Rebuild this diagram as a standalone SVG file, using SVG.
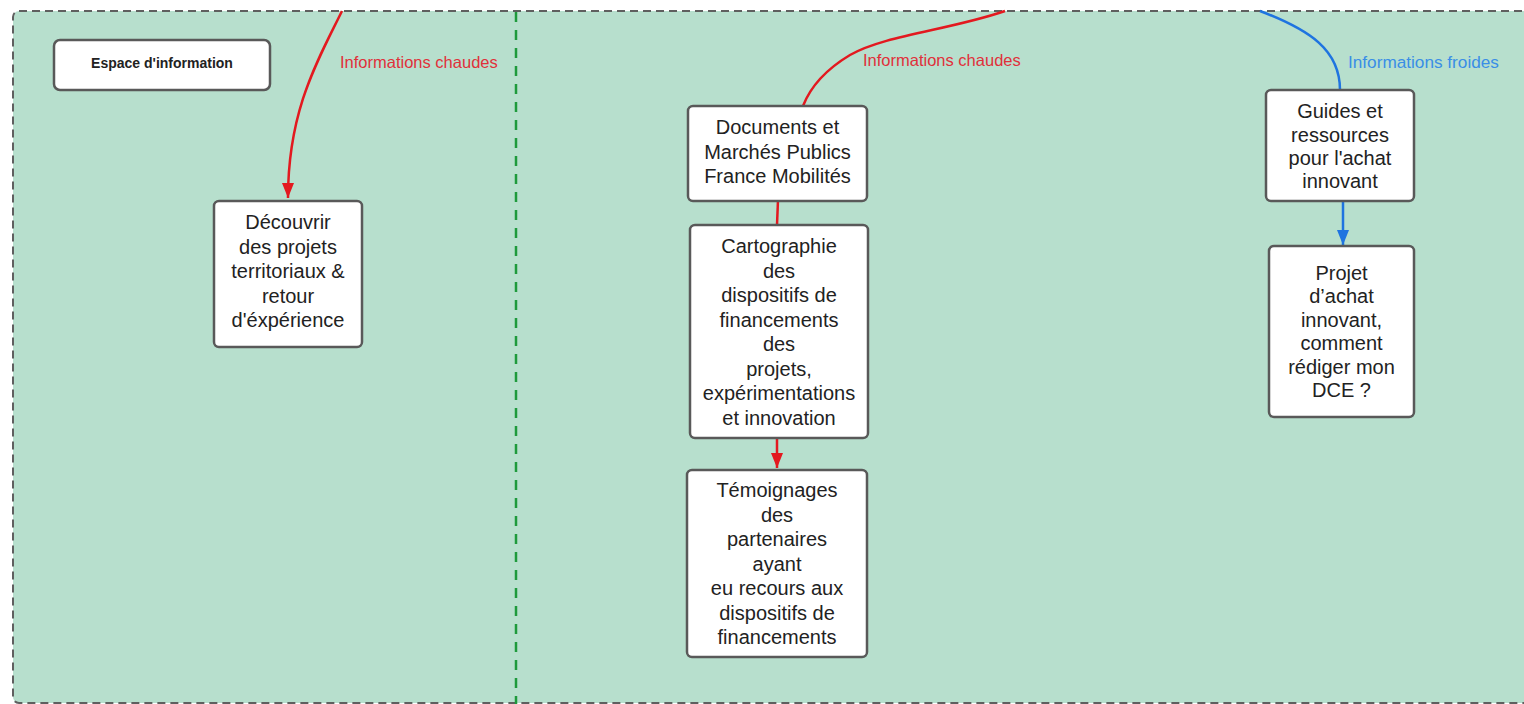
<svg xmlns="http://www.w3.org/2000/svg" width="1524" height="704" viewBox="0 0 1524 704">
<defs>
<style>
.node rect{fill:#ffffff;stroke:#595959;stroke-width:2.5}
.node text{font-family:"Liberation Sans",Arial,sans-serif;font-size:20px;fill:#222;text-anchor:middle}
.lbl{font-family:"Liberation Sans",Arial,sans-serif;font-size:16.5px}
.red{stroke:#e3191f;stroke-width:2.5;fill:none}
.blue{stroke:#1f74e0;stroke-width:2.5;fill:none}
</style>
<marker id="ar" viewBox="0 0 15 12" refX="15" refY="6" markerWidth="15" markerHeight="12" markerUnits="userSpaceOnUse" orient="auto">
<path d="M0,0 L15,6 L0,12 Z" fill="#e3191f"/>
</marker>
<marker id="ab" viewBox="0 0 15 12" refX="15" refY="6" markerWidth="15" markerHeight="12" markerUnits="userSpaceOnUse" orient="auto">
<path d="M0,0 L15,6 L0,12 Z" fill="#1f74e0"/>
</marker>
</defs>
<rect width="1524" height="704" fill="#ffffff"/>
<g id="container">
<rect x="13" y="11" width="1530" height="692" rx="6" fill="#b7dfcd" stroke="#5f5f5f" stroke-width="2" stroke-dasharray="8,5"/>
<line x1="516" y1="12" x2="516" y2="704" stroke="#1e9a3c" stroke-width="2.5" stroke-dasharray="10,8"/>
</g>
<g id="connectors">
<path class="red" d="M342,11 C318,60 288,110 288,198" marker-end="url(#ar)"/>
<path class="red" d="M1005,11 C950,30 885,35 850,55 C825,70 810,88 803,106"/>
<path class="red" d="M778,200 L777,225"/>
<path class="red" d="M777,438 L777,468" marker-end="url(#ar)"/>
<path class="blue" d="M1260,11 C1310,30 1340,50 1340,90"/>
<path class="blue" d="M1343,201 L1343,245" marker-end="url(#ab)"/>
<text class="lbl" x="340" y="68" fill="#e0303a">Informations chaudes</text>
<text class="lbl" x="863" y="66" fill="#e0303a">Informations chaudes</text>
<text class="lbl" x="1348" y="68" fill="#3a8ee6" style="font-size:17.2px">Informations froides</text>
</g>
<g id="espace" class="node">
<rect x="54" y="40" width="216" height="50" rx="6"/>
<text x="162" y="68" style="font-size:14px;font-weight:bold">Espace d'information</text>
</g>
<g id="decouvrir" class="node">
<rect x="214" y="201" width="148" height="146" rx="5"/>
<text x="288" y="229">Découvrir</text>
<text x="288" y="253.5">des projets</text>
<text x="288" y="278">territoriaux &amp;</text>
<text x="288" y="302.5">retour</text>
<text x="288" y="327">d'éxpérience</text>
</g>
<g id="documents" class="node">
<rect x="688" y="106" width="179" height="95" rx="5"/>
<text x="777.5" y="134">Documents et</text>
<text x="777.5" y="158.5">Marchés Publics</text>
<text x="777.5" y="183">France Mobilités</text>
</g>
<g id="cartographie" class="node">
<rect x="690" y="225" width="178" height="213" rx="5"/>
<text x="779" y="253">Cartographie</text>
<text x="779" y="277.5">des</text>
<text x="779" y="302">dispositifs de</text>
<text x="779" y="326.5">financements</text>
<text x="779" y="351">des</text>
<text x="779" y="375.5">projets,</text>
<text x="779" y="400">expérimentations</text>
<text x="779" y="424.5">et innovation</text>
</g>
<g id="temoignages" class="node">
<rect x="687" y="470" width="180" height="187" rx="5"/>
<text x="777" y="497">Témoignages</text>
<text x="777" y="521.5">des</text>
<text x="777" y="546">partenaires</text>
<text x="777" y="570.5">ayant</text>
<text x="777" y="595">eu recours aux</text>
<text x="777" y="619.5">dispositifs de</text>
<text x="777" y="644">financements</text>
</g>
<g id="guides" class="node">
<rect x="1266" y="90" width="148" height="111" rx="5"/>
<text x="1340" y="118">Guides et</text>
<text x="1340" y="141.5">ressources</text>
<text x="1340" y="164.5">pour l'achat</text>
<text x="1340" y="188">innovant</text>
</g>
<g id="projet" class="node">
<rect x="1269" y="246" width="145" height="171" rx="5"/>
<text x="1341.5" y="280">Projet</text>
<text x="1341.5" y="303.4">d’achat</text>
<text x="1341.5" y="326.8">innovant,</text>
<text x="1341.5" y="350.2">comment</text>
<text x="1341.5" y="373.6">rédiger mon</text>
<text x="1341.5" y="397">DCE ?</text>
</g>
</svg>
